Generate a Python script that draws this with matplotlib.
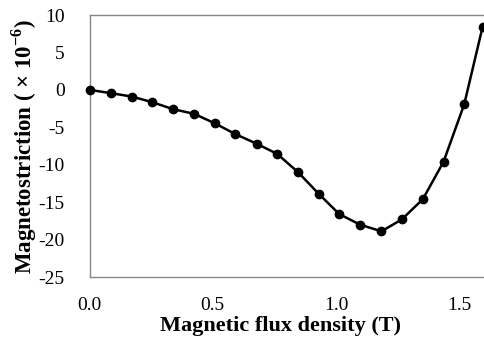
import matplotlib.pyplot as plt

plt.rcParams['font.family'] = ['Liberation Serif', 'DejaVu Serif']
plt.rcParams['axes.unicode_minus'] = False
plt.rcParams['mathtext.fontset'] = 'custom'
plt.rcParams['mathtext.rm'] = 'Liberation Serif'
plt.rcParams['mathtext.bf'] = 'Liberation Serif:bold'

# magnetic flux density (T) and magnetostriction (x 10^-6)
flux = [0.0, 0.087, 0.172, 0.254, 0.339, 0.424, 0.507, 0.591, 0.678, 0.761,
        0.846, 0.930, 1.013, 1.097, 1.184, 1.267, 1.352, 1.436, 1.520, 1.594]
strain = [0.0, -0.44, -0.9, -1.64, -2.58, -3.2, -4.45, -5.9, -7.2, -8.55,
          -11.0, -13.9, -16.6, -18.0, -18.9, -17.3, -14.6, -9.6, -1.9, 8.37]

xticks = [0.0, 0.5, 1.0, 1.5]
yticks = [10, 5, 0, -5, -10, -15, -20, -25]

fig = plt.figure(figsize=(4.84, 3.37), dpi=100)
ax = fig.add_axes([89.5 / 484, 1 - 277 / 337, 1 - 89.5 / 484, (277 - 15) / 337])

ax.plot(flux, strain, color='black', lw=1.8, marker='o', ms=6, clip_on=False, zorder=3)

ax.set_xlim(0, 1.6)
ax.set_ylim(-25, 10)
ax.set_xticks(xticks)
ax.set_xticklabels([f"{t:.1f}" for t in xticks])
ax.set_yticks(yticks)
ax.tick_params(length=0, labelsize=14)
ax.tick_params(axis='y', pad=18)
ax.tick_params(axis='x', pad=14.5)

for side in ['left', 'bottom', 'top']:
    ax.spines[side].set_color('#868686')
    ax.spines[side].set_linewidth(1.0)
ax.spines['right'].set_visible(False)

fig.text(281 / 484, 1 - 326 / 337, "Magnetic flux density (T)", ha='center', va='center',
         fontsize=16, fontweight='bold')
fig.text(24 / 484, 1 - 147 / 337, r"Magnetostriction ( × 10$^{\mathbf{-6}}$)", rotation=90,
         ha='center', va='center', fontsize=16.5, fontweight='bold')

fig.savefig('out.png', dpi=100)
